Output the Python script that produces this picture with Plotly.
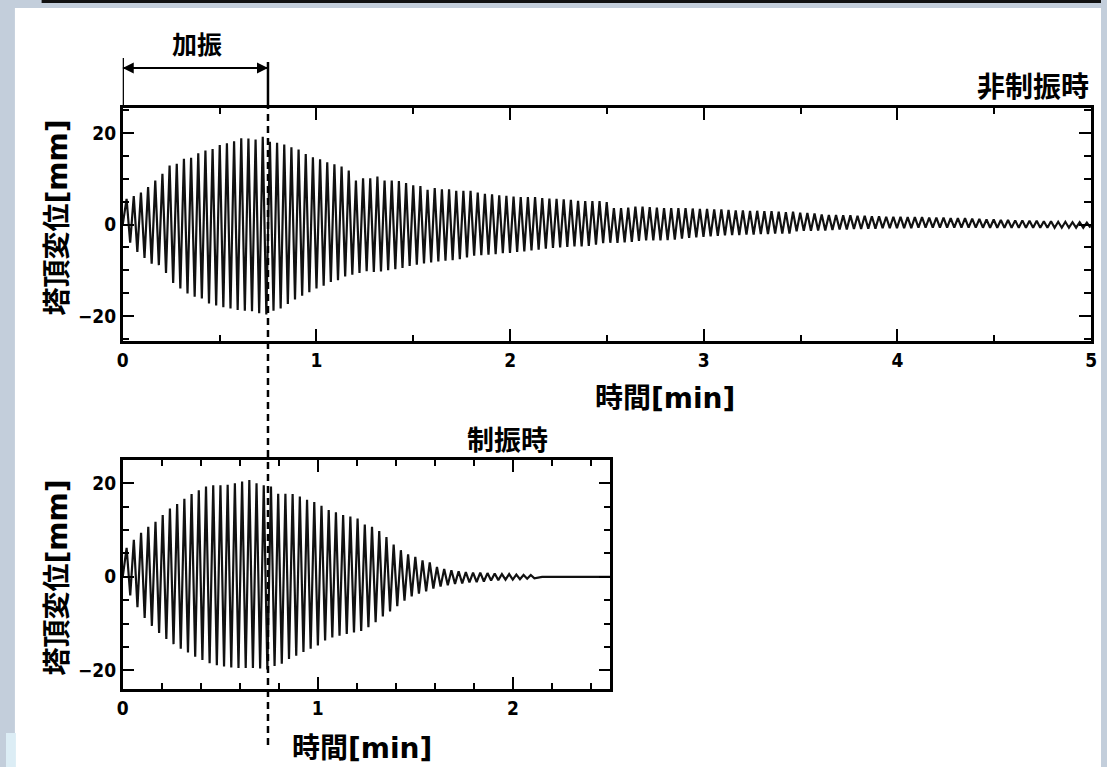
import numpy as np
import plotly.graph_objects as go

# Tower-top displacement record, read per sway cycle off the printed chart.
CYCLE_MIN = 0.037      # one sway cycle [min]
FIRST_PEAK = 0.02      # time of the first positive peak [min]
EXCITATION_END = 0.75  # end of forced excitation (加振) [min]

# uncontrolled (非制振時): positive / negative peak of each cycle [mm]
top_upper = [5.6, 6.2, 7.0, 8.2, 9.6, 11.1, 12.9, 13.3, 14.4, 14.6,
             15.6, 16.2, 16.5, 17.4, 17.8, 18.2, 18.9, 18.8, 18.6, 19.2,
             18.1, 17.9, 17.5, 16.9, 16.4, 15.4, 14.7, 14.3, 13.6, 13.2,
             12.7, 11.8, 9.6, 10.1, 10.1, 10.5, 9.6, 9.6, 9.5, 9.1,
             8.6, 8.4, 7.6, 8.0, 7.7, 7.7, 7.4, 7.4, 7.4, 7.0,
             6.7, 6.6, 6.4, 6.3, 6.1, 6.0, 6.0, 6.0, 5.8, 5.7,
             5.6, 5.5, 5.4, 5.2, 5.1, 5.1, 5.1, 4.9, 3.6, 3.6,
             3.7, 3.9, 3.9, 3.8, 3.7, 3.6, 3.6, 3.6, 3.6, 3.5,
             3.4, 3.4, 3.3, 3.3, 3.2, 3.1, 3.1, 3.0, 3.0, 2.9,
             2.9, 2.8, 2.7, 2.8, 2.6, 2.5, 2.4, 2.2, 2.1, 2.1,
             2.0, 2.0, 1.9, 1.9, 1.8, 1.8, 1.7, 1.7, 1.7, 1.6,
             1.6, 1.6, 1.5, 1.5, 1.5, 1.4, 1.4, 1.4, 1.3, 1.2,
             1.1, 1.1, 1.0, 1.0, 0.9, 0.9, 0.8, 0.8, 0.7, 0.7,
             0.6, 0.6, 0.5, 0.5, 0.4]
top_lower = [-4.0, -6.0, -7.3, -8.6, -8.9, -10.6, -12.8, -14.0, -15.1, -15.8,
             -16.2, -17.3, -17.7, -18.1, -18.4, -18.7, -18.9, -19.0, -19.4, -19.7,
             -18.9, -18.4, -17.4, -16.4, -15.6, -14.8, -14.0, -13.4, -12.6, -12.2,
             -11.4, -11.0, -10.6, -10.2, -10.4, -10.3, -10.0, -9.8, -9.5, -9.1,
             -8.8, -8.5, -8.3, -8.1, -7.9, -7.8, -7.6, -7.2, -6.8, -6.7,
             -6.6, -6.5, -6.3, -6.2, -6.0, -5.9, -5.7, -5.5, -5.3, -5.1,
             -5.0, -4.9, -4.8, -4.8, -4.7, -4.4, -4.1, -4.0, -4.0, -3.9,
             -3.8, -3.6, -3.5, -3.5, -3.5, -3.4, -3.3, -3.1, -2.9, -2.8,
             -2.7, -2.6, -2.5, -2.4, -2.3, -2.3, -2.2, -2.2, -2.1, -2.1,
             -2.0, -2.0, -2.0, -1.5, -1.4, -1.4, -1.3, -1.3, -1.2, -1.1,
             -1.1, -1.0, -1.0, -0.9, -0.9, -0.8, -0.8, -0.8, -0.8, -0.8,
             -0.7, -0.7, -0.7, -0.7, -0.7, -0.7, -0.7, -0.7, -0.7, -0.7,
             -0.7, -0.7, -0.7, -0.7, -0.7, -0.7, -0.7, -0.7, -0.7, -0.7,
             -0.7, -0.7, -0.7, -0.7, -0.7]

# controlled (制振時)
bottom_upper = [6.2, 7.9, 9.4, 10.7, 11.8, 13.2, 14.6, 15.6, 16.7, 17.7,
                18.5, 19.3, 19.6, 19.6, 19.7, 20.0, 20.4, 20.7, 20.0, 19.6,
                19.3, 17.8, 17.8, 17.7, 17.2, 16.5, 16.0, 15.2, 14.3, 13.8,
                13.2, 12.9, 12.5, 11.2, 10.7, 9.8, 8.5, 6.9, 5.7, 4.8,
                4.3, 3.5, 3.1, 2.1, 1.7, 1.4, 1.2, 1.0, 0.9, 0.9,
                0.8, 0.7, 0.6, 0.6, 0.5, 0.4, 0.4]
bottom_lower = [-4.0, -6.5, -8.8, -10.5, -12.0, -13.3, -14.4, -15.4, -16.2, -17.1,
                -17.8, -18.5, -18.9, -19.2, -19.4, -19.5, -19.5, -19.5, -19.6, -19.8,
                -19.1, -18.6, -17.6, -16.9, -16.1, -15.4, -14.7, -13.6, -13.0, -12.6,
                -12.2, -11.9, -11.6, -10.8, -9.7, -8.5, -7.4, -6.3, -5.1, -4.2,
                -3.6, -3.1, -2.5, -2.1, -1.8, -1.5, -1.4, -1.2, -1.1, -1.0,
                -0.8, -0.7, -0.6, -0.6, -0.5, -0.4, -0.3]
bottom_tail_t = [2.15, 2.5]
bottom_tail_y = [0.0, 0.0]


def sway_trace(upper, lower):
    """Interleave positive/negative peaks into one displacement trace."""
    n = len(upper)
    t_peak = FIRST_PEAK + CYCLE_MIN * np.arange(n)
    t = np.empty(2 * n + 1)
    y = np.empty(2 * n + 1)
    t[0], y[0] = 0.0, 0.0
    t[1::2], y[1::2] = t_peak, upper
    t[2::2], y[2::2] = t_peak + CYCLE_MIN / 2, lower
    return t, y


W, H = 1107, 767
px = lambda v: v / W
py = lambda v: 1 - v / H

TICK_FONT = dict(family="DejaVu Sans Condensed, DejaVu Sans", size=19, color="black", weight="bold")
JP_FONT = dict(family="DejaVu Sans, Noto Sans CJK JP", size=27, color="black", weight="bold")

t1, y1 = sway_trace(top_upper, top_lower)
t2, y2 = sway_trace(bottom_upper, bottom_lower)
t2 = np.concatenate([t2, bottom_tail_t])
y2 = np.concatenate([y2, bottom_tail_y])

fig = go.Figure()
fig.add_scatter(x=t1, y=y1, mode="lines", line=dict(color="#111", width=2.2),
                xaxis="x", yaxis="y", showlegend=False, hoverinfo="skip")
fig.add_scatter(x=t2, y=y2, mode="lines", line=dict(color="#111", width=2.2),
                xaxis="x2", yaxis="y2", showlegend=False, hoverinfo="skip")

axis = dict(showline=True, linewidth=2.5, linecolor="black", mirror="ticks",
            ticks="inside", ticklen=12, tickwidth=2.2, tickcolor="black",
            showgrid=False, zeroline=False, tickfont=TICK_FONT, fixedrange=True)

fig.update_layout(
    width=W, height=H, autosize=False,
    margin=dict(l=0, r=0, t=0, b=0, pad=0),
    paper_bgcolor="#c3cedb", plot_bgcolor="rgba(0,0,0,0)",
    xaxis=dict(axis, domain=[px(118), px(1097)], range=[0, 5], dtick=1, anchor="y",
               minor=dict(dtick=0.5, ticks="inside", ticklen=6, tickwidth=2, tickcolor="black")),
    yaxis=dict(axis, domain=[py(341), py(108)], range=[-25.5, 25.5], dtick=20, anchor="x",
               minor=dict(dtick=5, ticks="inside", ticklen=7, tickwidth=2, tickcolor="black")),
    xaxis2=dict(axis, domain=[px(118), px(611)], range=[0, 2.5], dtick=1, anchor="y2",
                minor=dict(dtick=0.2, ticks="inside", ticklen=6, tickwidth=2, tickcolor="black")),
    yaxis2=dict(axis, domain=[py(689), py(460)], range=[-24, 25], dtick=20, anchor="x2",
                minor=dict(dtick=5, ticks="inside", ticklen=7, tickwidth=2, tickcolor="black")),
)

# paper sheet and photo edges
fig.add_shape(type="rect", xref="paper", yref="paper", x0=px(9), x1=1, y0=0, y1=py(8),
              fillcolor="white", line_width=0, layer="below")
fig.add_shape(type="rect", xref="paper", yref="paper", x0=0, x1=px(10), y0=0, y1=py(733),
              fillcolor="#dcedf5", line_width=0, layer="below")
fig.add_shape(type="rect", xref="paper", yref="paper", x0=px(36), x1=1, y0=py(3), y1=1,
              fillcolor="#111", line_width=0, layer="below")

# excitation bracket and dashed marker
fig.add_shape(type="line", xref="x", yref="paper", x0=0, x1=0, y0=py(108), y1=py(58),
              line=dict(color="black", width=2.5))
fig.add_shape(type="line", xref="x", yref="paper", x0=EXCITATION_END, x1=EXCITATION_END,
              y0=py(108), y1=py(62), line=dict(color="black", width=2.5))
fig.add_shape(type="line", xref="x", yref="paper", x0=0, x1=EXCITATION_END,
              y0=py(68), y1=py(68), line=dict(color="black", width=2))
fig.add_shape(type="line", xref="x", yref="paper", x0=EXCITATION_END, x1=EXCITATION_END,
              y0=py(745), y1=py(108), line=dict(color="black", width=2.5, dash="7px,5px"))
for tip, off in [(0, 25), (EXCITATION_END, -25)]:
    fig.add_annotation(x=tip, y=py(68), xref="x", yref="paper", ax=off, ay=0, text="",
                       showarrow=True, arrowhead=2, arrowsize=1.1, arrowwidth=2, arrowcolor="black")

texts = [
    ("加振", 193, 46, 0, "center", 25),
    ("非制振時", 1097, 87, 0, "right", 28),
    ("制振時", 507, 440, 0, "center", 27),
    ("時間[min]", 666, 398, 0, "center", 28),
    ("時間[min]", 360, 748, 0, "center", 28),
    ("塔頂変位[mm]", 52, 217, -90, "center", 28),
    ("塔頂変位[mm]", 52, 577, -90, "center", 28),
]
for txt, x, y, ang, anchor, size in texts:
    fig.add_annotation(text=txt, x=px(x), y=py(y), xref="paper", yref="paper",
                       xanchor=anchor, yanchor="middle", textangle=ang, showarrow=False,
                       font=dict(JP_FONT, size=size))

# drop the default page margin so the figure fills the window exactly
fig.write_html("out.html", config={"displayModeBar": False},
               post_script="document.body.style.margin='0';")
